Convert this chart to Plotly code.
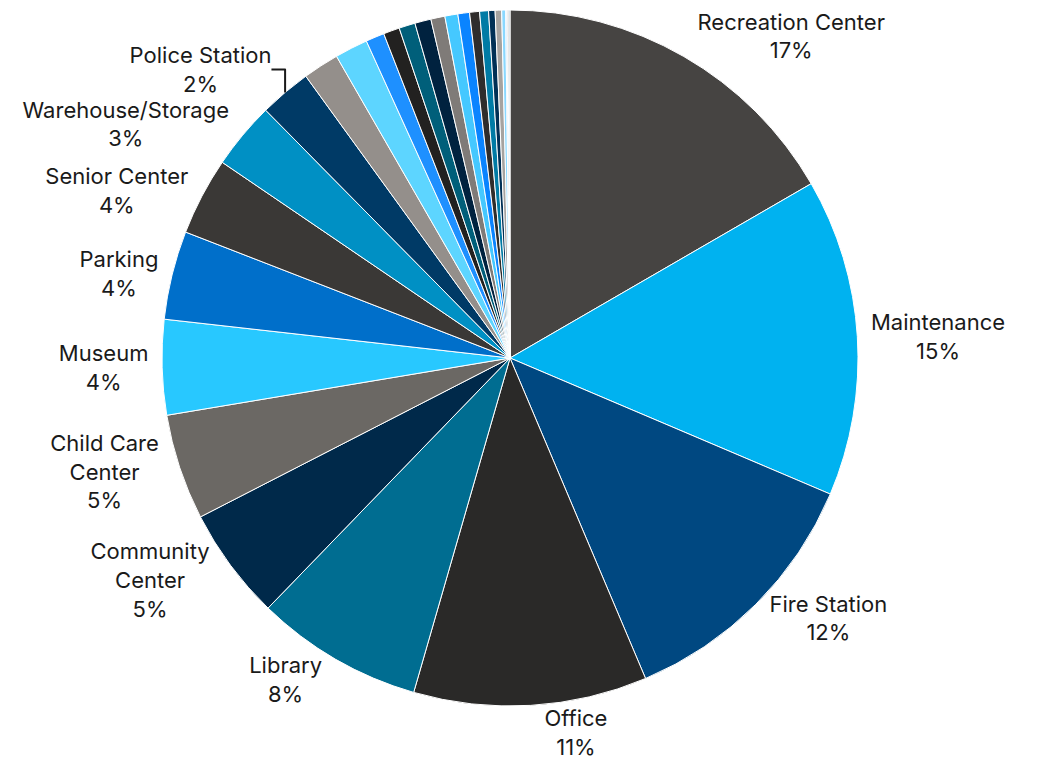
import plotly.graph_objects as go

categories = [
    "Recreation Center", "Maintenance", "Fire Station", "Office", "Library",
    "Community Center", "Child Care Center", "Museum", "Parking", "Senior Center",
    "Warehouse/Storage", "Police Station",
    "Other 13", "Other 14", "Other 15", "Other 16", "Other 17", "Other 18",
    "Other 19", "Other 20", "Other 21", "Other 22", "Other 23", "Other 24",
    "Other 25", "Other 26", "Other 27", "Other 28", "Other 29", "Other 30",
]
display_labels = [
    "Recreation Center", "Maintenance", "Fire Station", "Office", "Library",
    "Community<br>Center", "Child Care<br>Center", "Museum", "Parking", "Senior Center",
    "Warehouse/Storage", "Police Station",
]
values = [
    16.6, 14.7, 12.2, 10.8, 7.75,
    5.2, 4.9, 4.4, 4.1, 3.6,
    3.1, 2.4,
    1.67, 1.53, 0.86, 0.75, 0.75, 0.75,
    0.65, 0.60, 0.54, 0.46, 0.41, 0.30,
    0.30, 0.18, 0.05, 0.05, 0.05, 0.05,
]
colors = [
    "#464442", "#00b2f0", "#004881", "#2a2928", "#006d91",
    "#00294a", "#6b6864", "#28c8ff", "#006fca", "#3a3836",
    "#0090c4", "#003a66",
    "#948f8b", "#5dd5ff", "#1e90ff", "#222120", "#005f7a", "#00223f",
    "#7f7b78", "#45c8ff", "#0a84ff", "#2f2d2c", "#007ba5", "#003056",
    "#a6a3a0", "#8ad8ff", "#3aa0ff", "#b0b0b0", "#2f2d2c", "#7a9fb5",
]

total = sum(values)
texts = []
for i, v in enumerate(values):
    if i < len(display_labels):
        texts.append(f"{display_labels[i]}<br>{round(100 * v / total):.0f}%")
    else:
        texts.append("")

W, H = 1037, 759
fig = go.Figure(
    go.Pie(
        labels=categories,
        values=values,
        text=texts,
        textinfo="text",
        textposition="outside",
        automargin=False,
        sort=False,
        direction="clockwise",
        rotation=0,
        domain=dict(x=[152 / W, 852 / W], y=[1 - 698 / H, 1 - 2 / H]),
        marker=dict(colors=colors, line=dict(color="white", width=1)),
        outsidetextfont=dict(family="Inter, Noto Sans, sans-serif", size=22, color="#1a1a1a"),
        showlegend=False,
        hoverinfo="label+percent",
    )
)
fig.update_layout(
    width=W,
    height=H,
    margin=dict(l=0, r=0, t=0, b=0, autoexpand=False),
    paper_bgcolor="white",
    plot_bgcolor="white",
    showlegend=False,
)
fig.write_html("out.html")
